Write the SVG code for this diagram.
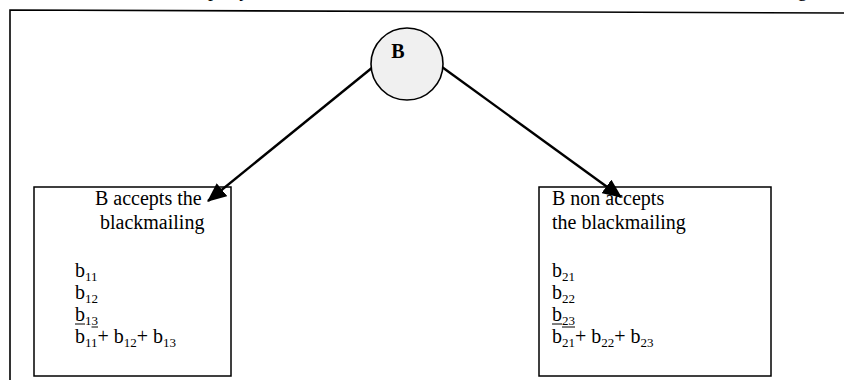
<svg xmlns="http://www.w3.org/2000/svg" width="844" height="380" viewBox="0 0 844 380">
  <style>
    .t { font-family: "Liberation Serif", "Times New Roman", serif; font-size: 20px; fill: #000; }
    .sub { font-size: 13px; }
    .frame { fill: none; stroke: #000; stroke-width: 1.6; }
    .box { fill: #fff; stroke: #000; stroke-width: 1.5; }
    .edge { stroke: #000; stroke-width: 2.4; fill: none; }
    .ul { stroke: #000; stroke-width: 1; }
  </style>
  <defs>
    <marker id="arrow" markerWidth="8" markerHeight="7" refX="7.5" refY="3.5" orient="auto" markerUnits="strokeWidth">
      <path d="M0,0 L8,3.5 L0,7 Z" fill="#000"/>
    </marker>
  </defs>

  <rect width="844" height="380" fill="#fff"/>

  <!-- caption line above the frame, only its descenders fall on the page -->
  <text class="t" y="-4"><tspan x="172">The party B</tspan><tspan x="700">the following</tspan></text>

  <!-- outer frame -->
  <g id="frame">
    <path class="frame" d="M10,381 L10,10 L844,13"/>
  </g>

  <!-- left outcome -->
  <g id="accepts">
    <rect class="box" x="34" y="187" width="197" height="189"/>
    <text class="t" x="95" y="205">B accepts the</text>
    <text class="t" x="100" y="229">blackmailing</text>
    <text class="t" x="75" y="277">b<tspan class="sub" dy="4">11</tspan></text>
    <text class="t" x="75" y="299">b<tspan class="sub" dy="4">12</tspan></text>
    <text class="t" x="75" y="321">b<tspan class="sub" dy="4">13</tspan></text>
    <line class="ul" x1="75" y1="324" x2="85" y2="324"/>
    <line class="ul" x1="91.5" y1="327" x2="98" y2="327"/>
    <text class="t" x="75" y="343">b<tspan class="sub" dy="4">11</tspan><tspan dy="-4">+ b</tspan><tspan class="sub" dy="4">12</tspan><tspan dy="-4">+ b</tspan><tspan class="sub" dy="4">13</tspan></text>
  </g>

  <!-- right outcome -->
  <g id="rejects">
    <rect class="box" x="539" y="187" width="232" height="189"/>
    <text class="t" x="552" y="205">B non accepts</text>
    <text class="t" x="552" y="229">the blackmailing</text>
    <text class="t" x="552" y="277">b<tspan class="sub" dy="4">21</tspan></text>
    <text class="t" x="552" y="299">b<tspan class="sub" dy="4">22</tspan></text>
    <text class="t" x="552" y="321">b<tspan class="sub" dy="4">23</tspan></text>
    <line class="ul" x1="552" y1="324" x2="562" y2="324"/>
    <line class="ul" x1="562" y1="327" x2="575" y2="327"/>
    <text class="t" x="552" y="343">b<tspan class="sub" dy="4">21</tspan><tspan dy="-4">+ b</tspan><tspan class="sub" dy="4">22</tspan><tspan dy="-4">+ b</tspan><tspan class="sub" dy="4">23</tspan></text>
  </g>

  <!-- connectors -->
  <g id="connectors">
    <line class="edge" x1="373" y1="67" x2="208" y2="201" marker-end="url(#arrow)"/>
    <line class="edge" x1="442" y1="67" x2="621" y2="197" marker-end="url(#arrow)"/>
  </g>

  <!-- decision node -->
  <g id="nodeB">
    <circle cx="407" cy="64" r="36" fill="#f0f0f0" stroke="#000" stroke-width="1.6"/>
    <text class="t" x="398" y="58" text-anchor="middle" font-weight="bold" font-size="21">B</text>
  </g>
</svg>
